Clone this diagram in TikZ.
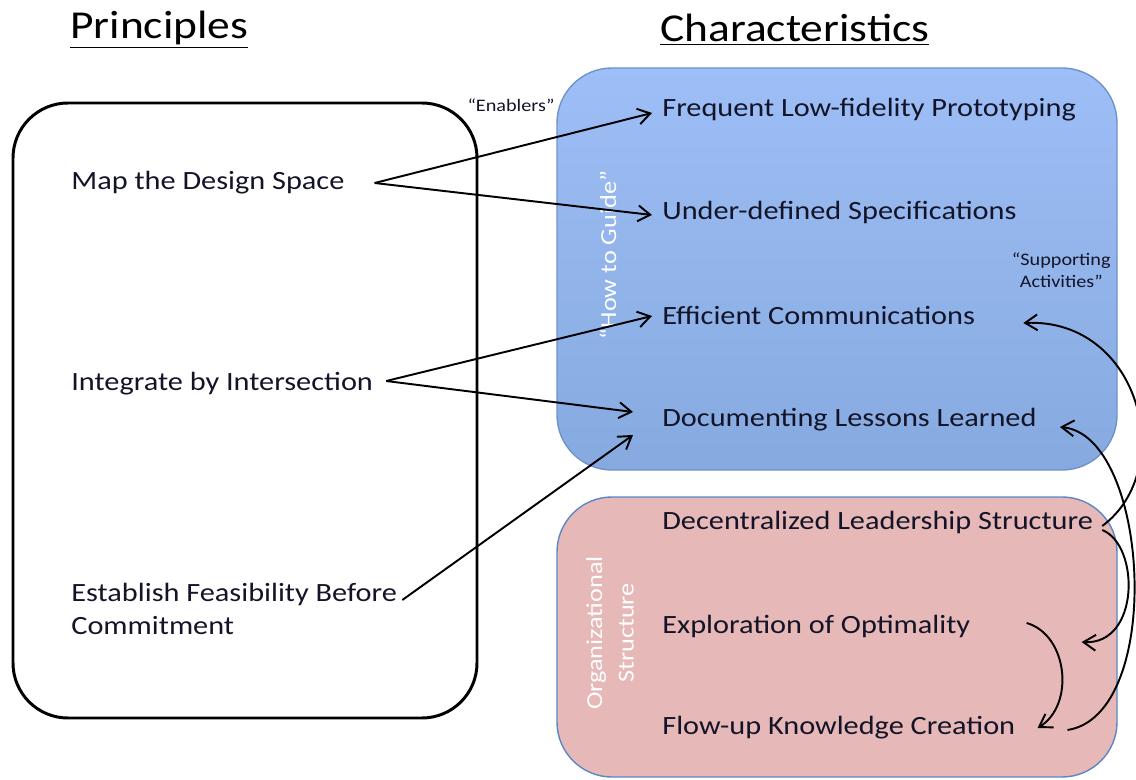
\documentclass[tikz,border=0pt]{standalone}
\usepackage{fontspec}
\setmainfont{Carlito}[FakeStretch=1.15]
\usetikzlibrary{arrows.meta}
\definecolor{howtotop}{HTML}{9DBEF6}
\definecolor{howtobot}{HTML}{86AADF}
\definecolor{howtoedge}{HTML}{6E93CC}
\definecolor{orgfill}{HTML}{E6B8B7}
\definecolor{orgedge}{HTML}{5B87C5}
\definecolor{itemtext}{HTML}{141428}
\tikzset{
  item/.style={anchor=west,inner ysep=0pt,inner xsep=5pt,align=left,text=itemtext,font=\fontsize{15}{19}\selectfont},
  heading/.style={anchor=west,inner sep=0pt,font=\fontsize{22.5}{26}\selectfont},
  tag/.style={inner sep=0pt,align=center,text=itemtext,font=\fontsize{10}{12.5}\selectfont},
  side/.style={rotate=90,text=white,align=center,font=\fontsize{13}{18}\selectfont},
  link/.style={-{Straight Barb[length=7pt,width=9pt]},line width=1.1pt},
}

\begin{document}
\begin{tikzpicture}[x=0.02cm,y=0.02cm]
\useasboundingbox (0,0) rectangle (1136,-780);

\draw[line width=1.7pt,rounded corners=1.1cm] (13,-103) rectangle (477,-718);
\shade[top color=howtotop,bottom color=howtobot,draw=howtoedge,line width=0.8pt,rounded corners=1.1cm] (557,-68) rectangle (1117,-470);
\filldraw[fill=orgfill,draw=orgedge,line width=0.8pt,rounded corners=1.1cm] (557,-497) rectangle (1117,-777);

\node[heading] (princ) at (70,-30) {\underline{Principles}};
\node[heading] (chars) at (660,-30) {\underline{Characteristics}};

\node[item,inner xsep=0pt] (map) at (71,-183) {Map the Design Space};
\node[item,inner xsep=0pt] (integ) at (71,-384) {Integrate by Intersection};
\node[item,inner xsep=0pt] (feas) at (71,-609) {Establish Feasibility Before\\Commitment};

\node[item,inner xsep=0pt] (freq) at (662,-110) {Frequent Low-fidelity Prototyping};
\node[item,inner xsep=0pt] (under) at (662,-212) {Under-defined Specifications};
\node[item,inner xsep=0pt] (eff) at (662,-315) {Efficient Communications};
\node[item,inner xsep=0pt] (doc) at (662,-420) {Documenting Lessons Learned};
\node[item,inner xsep=0pt] (dec) at (662,-522) {Decentralized Leadership Structure};
\node[item,inner xsep=0pt] (expl) at (662,-626) {Exploration of Optimality};
\node[item,inner xsep=0pt] (flow) at (662,-728) {Flow-up Knowledge Creation};

\node[tag] (enab) at (511,-105) {“Enablers”};
\node[tag,anchor=east] (supp) at (1111,-270) {“Supporting\\Activities”};
\node[side] (howto) at (608,-255) {“How to Guide”};
\node[side] (orgs) at (610,-633) {Organizational\\Structure};

\draw[link] ([xshift=17]map.east) -- ([shift={(-10,-3)}]freq.west);
\draw[link] ([xshift=17]map.east) -- ([shift={(-10,-3)}]under.west);
\draw[link] ([shift={(13,3)}]integ.east) -- ([shift={(-10,-1)}]eff.west);
\draw[link] ([shift={(13,3)}]integ.east) -- ([shift={(-29,8)}]doc.west);
\draw[link] ([shift={(5,9)}]feas.east) -- ([shift={(-29,-15)}]doc.west);

\draw[link] ([shift={(9,-4)}]dec.east) .. controls (1178,-470) and (1140,-318) .. ([shift={(48,-8)}]eff.east);
\draw[link] ([shift={(9,-8)}]dec.east) .. controls (1140,-545) and (1140,-645) .. ([shift={(111,-16)}]expl.east);
\draw[link] ([shift={(56,3)}]expl.east) .. controls (1068,-635) and (1075,-705) .. ([shift={(22,0)}]flow.east);
\draw[link] ([shift={(52,-2)}]flow.east) .. controls (1165,-715) and (1150,-435) .. ([shift={(23,-7)}]doc.east);
\end{tikzpicture}
\end{document}
